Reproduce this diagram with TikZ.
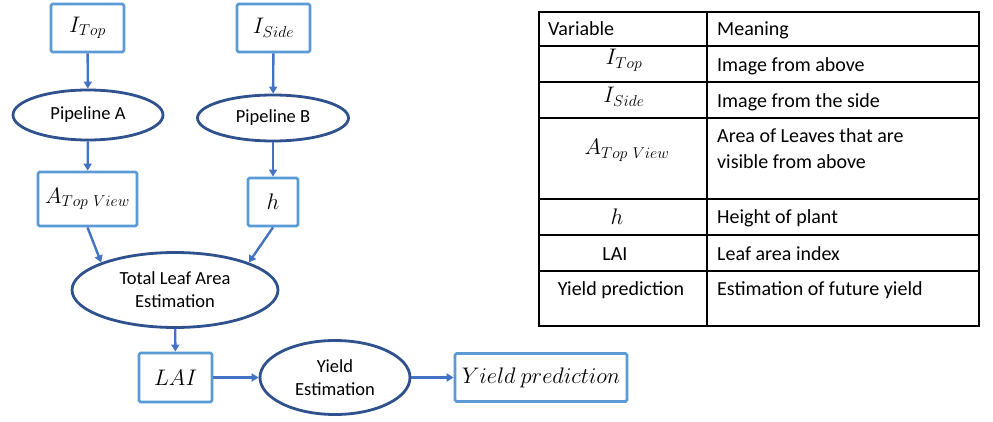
\documentclass[tikz,border=0pt]{standalone}
\usepackage{fix-cm}
\usepackage{fontspec}
\setmainfont{Carlito}
\usetikzlibrary{shapes.geometric,arrows.meta}
\definecolor{boxblue}{HTML}{5B9BD5}
\definecolor{ellblue}{HTML}{2F528F}
\definecolor{arrblue}{HTML}{4472C4}
\begin{document}
\begin{tikzpicture}[x=1pt,y=-1pt,
  vbox/.style={draw=boxblue,line width=2.8pt,rounded corners=1.5pt,fill=white,inner sep=0pt,font=\fontsize{22.5}{26}\selectfont},
  proc/.style={ellipse,draw=ellblue,line width=2.8pt,fill=white,inner sep=0pt,align=center,font=\fontsize{18.5}{23}\selectfont},
  flow/.style={draw=arrblue,line width=2.4pt,-{Triangle[length=7pt,width=8pt]}},
  tline/.style={line width=1.2pt,draw=black},
  ttext/.style={inner sep=0pt,anchor=base west,font=\fontsize{20}{24}\selectfont},
  tmath/.style={inner sep=0pt,anchor=base,font=\fontsize{22.5}{26}\selectfont},
  tword/.style={inner sep=0pt,anchor=base,font=\fontsize{20}{24}\selectfont}]
\useasboundingbox (0,0) rectangle (993,422);
% diagram nodes
\node[vbox,minimum width=73pt,minimum height=48pt] (itop) at (87.5,28) {$I_{Top}$};
\node[vbox,minimum width=73pt,minimum height=48pt] (iside) at (273.5,28) {$I_{Side}$};
\node[proc,minimum width=150pt,minimum height=50pt] (pa) at (88,115) {Pipeline A};
\node[proc,minimum width=151pt,minimum height=46pt] (pb) at (273,118) {Pipeline B};
\node[vbox,minimum width=99pt,minimum height=54pt] (atv) at (87.5,199) {$A_{Top\ View}$};
\node[vbox,minimum width=50pt,minimum height=48pt] (h) at (273,202) {$h$};
\node[proc,minimum width=206pt,minimum height=75pt] (tlae) at (175,290) {Total Leaf Area\\Estimation};
\node[vbox,minimum width=73pt,minimum height=49pt] (lai) at (175.5,377.5) {$LAI$};
\node[proc,minimum width=150pt,minimum height=74pt] (ye) at (335,377.5) {Yield\\Estimation};
\node[vbox,minimum width=172pt,minimum height=48pt] (yp) at (541,377.5) {$Yield\ prediction$};
% connectors
\draw[flow] (itop) -- (pa);
\draw[flow] (iside) -- (pb);
\draw[flow] (pa) -- (atv);
\draw[flow] (pb) -- (h);
\draw[flow] (atv.south) -- (tlae.north west);
\draw[flow] (h.south) -- (tlae.north east);
\draw[flow] (tlae) -- (lai);
\draw[flow] (lai) -- (ye);
\draw[flow] (ye) -- (yp);
% table
\draw[tline] (539,12) rectangle (979,326);
\draw[tline] (707,12) -- (707,326);
\foreach \yy in {46,82,118,199,271} \draw[tline] (539,\yy) -- (979,\yy);
\draw[line width=2.4pt] (539,235) -- (979,235);
\node[ttext] (h1) at (548,36) {Variable};
\node[ttext] (h2) at (717,36) {Meaning};
\node[tmath] (v1) at (624,65) {$I_{Top}$};
\node[ttext] (m1) at (717,72) {Image from above};
\node[tmath] (v2) at (624,103) {$I_{Side}$};
\node[ttext] (m2) at (717,108) {Image from the side};
\node[tmath] (v3) at (627,155) {$A_{Top\ View}$};
\node[ttext] (m3a) at (717,143) {Area of Leaves that are};
\node[ttext] (m3b) at (717,169) {visible from above};
\node[tmath] (v4) at (617,225) {$h$};
\node[ttext] (m4) at (717,224) {Height of plant};
\node[tword] (v5) at (615,260) {LAI};
\node[tword] (v6) at (621,295) {Yield prediction};
\node[ttext] (m5) at (717,260) {Leaf area index};
\node[ttext] (m6) at (717,295) {Estimation of future yield};
\end{tikzpicture}
\end{document}
